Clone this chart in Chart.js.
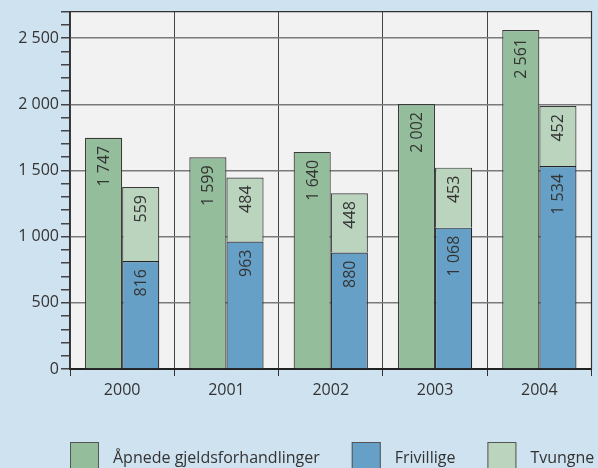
<!DOCTYPE html>
<html>
<head>
<meta charset="utf-8">
<script src="https://cdn.jsdelivr.net/npm/chart.js@4.4.1/dist/chart.umd.min.js"></script>
<style>
  html, body { margin: 0; padding: 0; background: #cfe2f0; }
  #wrap { width: 598px; height: 468px; }
</style>
</head>
<body>
<div id="wrap"><canvas id="myChart"></canvas></div>
<script>
const years = ['2000', '2001', '2002', '2003', '2004'];
const apnede = [1747, 1599, 1640, 2002, 2561];
const frivillige = [816, 963, 880, 1068, 1534];
const tvungne = [559, 484, 448, 453, 452];
const yLabels = [0, 500, 1000, 1500, 2000, 2500];

const FONT = '"Open Sans", "Noto Sans", sans-serif';

function fmt(v) {
    return String(v).replace(/\B(?=(\d{3})+(?!\d))/g, '\u00a0');
}

// background + plot area fill
const bgPlugin = {
    id: 'bg',
    beforeDraw(chart) {
        const c = chart.ctx, a = chart.chartArea;
        c.save();
        c.fillStyle = '#cfe2f0';
        c.fillRect(0, 0, chart.width, chart.height);
        c.fillStyle = '#f2f2f2';
        c.fillRect(a.left, a.top, a.right - a.left, a.bottom - a.top);
        c.restore();
    },
    afterDraw(chart) {
        const c = chart.ctx, a = chart.chartArea;
        c.save();
        c.strokeStyle = '#333';
        c.lineWidth = 1.2;
        c.beginPath();
        c.moveTo(a.left, a.top);
        c.lineTo(a.right, a.top);
        c.lineTo(a.right, a.bottom);
        c.stroke();

        // legend
        c.font = '16px ' + FONT;
        c.textBaseline = 'alphabetic';
        c.textAlign = 'left';
        let x = a.left;
        chart.data.datasets.forEach(ds => {
            c.fillStyle = ds.backgroundColor;
            c.fillRect(x, 442, 29, 29);
            c.strokeStyle = '#555';
            c.lineWidth = 1;
            c.strokeRect(x + 0.5, 442.5, 28, 29);
            c.fillStyle = '#333';
            c.fillText(ds.label, x + 43, 463);
            x += 43 + c.measureText(ds.label).width + 32;
        });
        c.restore();
    }
};

// value labels inside bars, rotated
const labelPlugin = {
    id: 'barLabels',
    afterDatasetsDraw(chart) {
        const c = chart.ctx;
        c.save();
        c.font = '16px ' + FONT;
        c.fillStyle = '#333';
        c.textAlign = 'right';
        c.textBaseline = 'middle';
        chart.data.datasets.forEach((ds, i) => {
            const meta = chart.getDatasetMeta(i);
            meta.data.forEach((bar, j) => {
                c.save();
                c.translate(bar.x, bar.y + 8);
                c.rotate(-Math.PI / 2);
                c.fillText(fmt(ds.data[j]), 0, 1);
                c.restore();
            });
        });
        c.restore();
    }
};

const ctx = document.getElementById('myChart');
const myChart = new Chart(ctx, {
    type: 'bar',
    data: {
        labels: years,
        datasets: [{
            label: 'Åpnede gjeldsforhandlinger',
            data: apnede,
            stack: 'a',
            backgroundColor: '#93bd9b',
            borderColor: '#3a3a3a',
            borderWidth: 1.2
        }, {
            label: 'Frivillige',
            data: frivillige,
            stack: 'b',
            backgroundColor: '#66a0c7',
            borderColor: '#222',
            borderWidth: 1.2
        }, {
            label: 'Tvungne',
            data: tvungne,
            stack: 'b',
            backgroundColor: '#bad4be',
            borderColor: '#3a3a3a',
            borderWidth: 1.2
        }]
    },
    options: {
        responsive: true,
        maintainAspectRatio: false,
        animation: false,
        layout: { padding: { top: 10, right: 6.5, left: 0, bottom: 0 } },
        datasets: {
            bar: { categoryPercentage: 0.712, barPercentage: 1 }
        },
        plugins: {
            legend: { display: false },
            tooltip: { enabled: false }
        },
        scales: {
            x: {
                stacked: true,
                grid: {
                    offset: true,
                    color: '#444',
                    lineWidth: 1,
                    tickColor: '#333',
                    tickLength: 7
                },
                border: { color: '#222', width: 2 },
                ticks: {
                    color: '#333',
                    padding: 5,
                    font: { family: FONT, size: 16 }
                },
                afterFit(scale) { scale.height = 99; }
            },
            y: {
                stacked: true,
                min: 0,
                max: 2700,
                grid: {
                    color: c => yLabels.includes(c.tick.value) ? '#7a7a7a' : 'rgba(0,0,0,0)',
                    lineWidth: 1.5,
                    tickColor: '#444',
                    tickLength: 9
                },
                border: { color: '#333', width: 1.5 },
                ticks: {
                    stepSize: 100,
                    autoSkip: false,
                    color: '#333',
                    padding: 2,
                    font: { family: FONT, size: 16 },
                    callback: v => yLabels.includes(v) ? fmt(v) : ''
                },
                afterFit(scale) { scale.width = 70; }
            }
        }
    },
    plugins: [bgPlugin, labelPlugin]
});
</script>
</body>
</html>
